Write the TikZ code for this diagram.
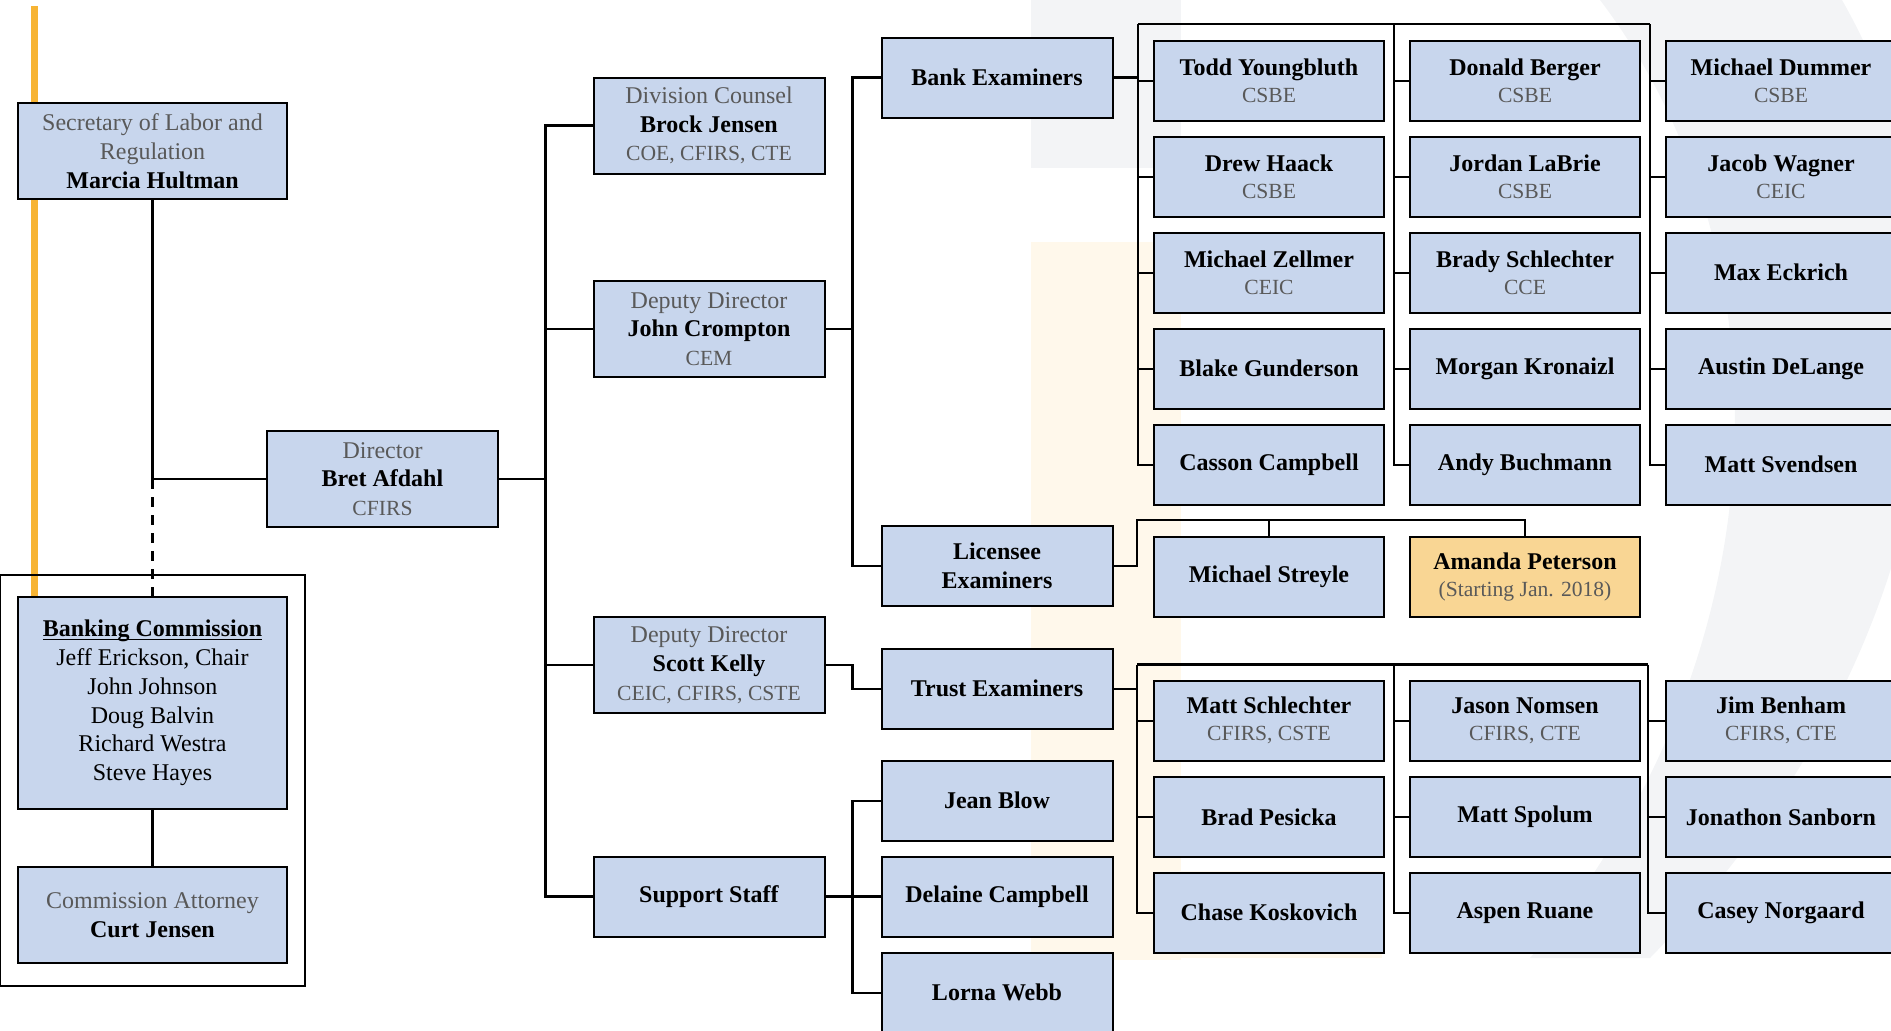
\documentclass[tikz,border=0pt]{standalone}
\usepackage{fontspec}
\setmainfont{Liberation Serif}
\usepackage{xcolor}
\usepackage{tikz}
\usetikzlibrary{positioning}
\usetikzlibrary{calc,fit}
\definecolor{boxblue}{RGB}{200,214,237}
\definecolor{peach}{RGB}{249,214,148}
\definecolor{rulegold}{RGB}{247,180,52}
\definecolor{titlegray}{RGB}{89,89,89}
\definecolor{wmgray}{RGB}{243,244,246}
\definecolor{wmcream}{RGB}{255,248,235}
\tikzset{
	staff/.style={draw, line width=1pt, fill=boxblue, align=center,
		inner sep=0pt, minimum width=115.5pt, minimum height=40pt,
		font=\fontsize{12pt}{14.4pt}\selectfont},
	chief/.style={staff, minimum height=48pt},
	member/.style={staff, minimum width=115pt,
		font=\fontsize{12pt}{13.4pt}\selectfont},
	link/.style={draw, line width=1.1pt},
	advice/.style={link, dash pattern=on 5pt off 4pt}
}
\newcommand{\who}[1]{\textbf{#1}}
\newcommand{\jobtitle}[1]{{\color{titlegray}#1}}
\newcommand{\creds}[1]{{\fontsize{10.8pt}{13pt}\selectfont\color{titlegray}#1}}
\newcommand{\headline}[1]{\setbox0\hbox{#1}\rlap{\rule[-1.6pt]{\wd0}{0.7pt}}\box0}

\begin{document}
\begin{tikzpicture}[x=0.5pt, y=-0.5pt]
		\useasboundingbox (0,0) rectangle (1891,1030);
		\clip (0,0) rectangle (1891,1030);
		%% Watermark
		\fill[wmgray] (1031,0) rectangle (1181,168);
		\fill[wmcream] (1031,242) rectangle (1181,960);
		\fill[wmcream] (1181,871) rectangle (1382,958);
		\fill[wmgray] (1600,0) -- (1842,0) .. controls (1990,260) and (1960,640) .. (1650,958)
			-- (1530,958) .. controls (1790,650) and (1790,250) .. (1600,0) -- cycle;
		\draw[rulegold, line width=3.5pt] (34,6) -- (34,600);
		%% Commission side
		\node [chief, minimum width=134.5pt] (sec) at (152.5,151)
			{\jobtitle{Secretary of Labor and}\\\jobtitle{Regulation}\\\who{Marcia Hultman}};
		\node [staff, minimum width=134.5pt, minimum height=106pt] (comm) at (152.5,703)
			{\headline{\who{Banking Commission}}\\Jeff Erickson, Chair\\John Johnson\\Doug Balvin\\Richard Westra\\Steve Hayes};
		\node [chief, minimum width=134.5pt] (atty) at (152.5,915.3)
			{\jobtitle{Commission Attorney}\\\who{Curt Jensen}};
		\node [draw, line width=1pt, inner xsep=8.5pt, inner ysep=10.75pt, fit=(comm)(atty)] (board) {};
		%% Division
		\node [chief] (dir) at (382.5,479) {\jobtitle{Director}\\\who{Bret Afdahl}\\\creds{CFIRS}};
		\node [chief] (divc) at (709,125.5) {\jobtitle{Division Counsel}\\\who{Brock Jensen}\\\creds{COE, CFIRS, CTE}};
		\node [chief] (cromp) at (709,329) {\jobtitle{Deputy Director}\\\who{John Crompton}\\\creds{CEM}};
		\node [chief] (kelly) at (709,665) {\jobtitle{Deputy Director}\\\who{Scott Kelly}\\\creds{CEIC, CFIRS, CSTE}};
		\node [staff] (supp) at (709,896.5) {\who{Support Staff}};
		\node [staff] (bankex) at (997,77.5) {\who{Bank Examiners}};
		\node [staff] (licex) at (997,566) {\who{Licensee}\\\who{Examiners}};
		\node [staff] (trustex) at (997,688.6) {\who{Trust Examiners}};
		\node [staff] (jean) at (997,800.7) {\who{Jean Blow}};
		\node [staff] (delaine) at (997,896.5) {\who{Delaine Campbell}};
		\node [staff] (lorna) at (997,992.7) {\who{Lorna Webb}};
		%% Bank examiners
		\node [member] (ty) at (1269,80.7) {\who{Todd Youngbluth}\\\creds{CSBE}};
		\node [member] (dh) at (1269,176.7) {\who{Drew Haack}\\\creds{CSBE}};
		\node [member] (mz) at (1269,272.7) {\who{Michael Zellmer}\\\creds{CEIC}};
		\node [member] (bgu) at (1269,368.7) {\who{Blake Gunderson}};
		\node [member] (cc) at (1269,464.7) {\who{Casson Campbell}};
		\node [member] (db) at (1525,80.7) {\who{Donald Berger}\\\creds{CSBE}};
		\node [member] (jl) at (1525,176.7) {\who{Jordan LaBrie}\\\creds{CSBE}};
		\node [member] (bs) at (1525,272.7) {\who{Brady Schlechter}\\\creds{CCE}};
		\node [member] (mk) at (1525,368.7) {\who{Morgan Kronaizl}};
		\node [member] (ab) at (1525,464.7) {\who{Andy Buchmann}};
		\node [member] (md) at (1781,80.7) {\who{Michael Dummer}\\\creds{CSBE}};
		\node [member] (jw) at (1781,176.7) {\who{Jacob Wagner}\\\creds{CEIC}};
		\node [member] (me) at (1781,272.7) {\who{Max Eckrich}};
		\node [member] (ad) at (1781,368.7) {\who{Austin DeLange}};
		\node [member] (msv) at (1781,464.7) {\who{Matt Svendsen}};
		%% Licensee examiners
		\node [member] (streyle) at (1269,576.7) {\who{Michael Streyle}};
		\node [member, fill=peach] (amanda) at (1525,576.7) {\who{Amanda Peterson}\\\creds{(Starting Jan. 2018)}};
		%% Trust examiners
		\node [member] (msc) at (1269,720.7) {\who{Matt Schlechter}\\\creds{CFIRS, CSTE}};
		\node [member] (bp) at (1269,816.9) {\who{Brad Pesicka}};
		\node [member] (ck) at (1269,912.7) {\who{Chase Koskovich}};
		\node [member] (jn) at (1525,720.7) {\who{Jason Nomsen}\\\creds{CFIRS, CTE}};
		\node [member] (mspo) at (1525,816.9) {\who{Matt Spolum}};
		\node [member] (ar) at (1525,912.7) {\who{Aspen Ruane}};
		\node [member] (jb) at (1781,720.7) {\who{Jim Benham}\\\creds{CFIRS, CTE}};
		\node [member] (js) at (1781,816.9) {\who{Jonathon Sanborn}};
		\node [member] (cn) at (1781,912.7) {\who{Casey Norgaard}};
		%% Reporting lines
		\coordinate (trunk) at (545.5,0);
		\coordinate (sub) at (852.5,0);
		\coordinate (fork) at (sec.south |- dir.west);
		\path [link] (sec.south) |- (dir.west);
		\path [advice] (fork) -- (comm.north);
		\path [link] (comm.south) -- (atty.north);
		\path [link] (divc.west) -- (divc.west -| trunk) |- (supp.west);
		\path [link] (dir.east) -- (dir.east -| trunk);
		\path [link] (cromp.west) -- (cromp.west -| trunk);
		\path [link] (kelly.west) -- (kelly.west -| trunk);
		\path [link] (bankex.west) -- (bankex.west -| sub) |- (licex.west);
		\path [link] (cromp.east) -- (cromp.east -| sub);
		\path [link] (kelly.east) -- (kelly.east -| sub) |- (trustex.west);
		\path [link] (jean.west) -- (jean.west -| sub) |- (lorna.west);
		\path [link] (supp.east) -- (supp.east -| sub);
		\path [link] (sub |- delaine.west) -- (delaine.west);
		%% Bank examiner brackets
		\coordinate (b1) at (1138,24.3);
		\coordinate (b2) at (1394,24.3);
		\coordinate (b3) at (1650,24.3);
		\path [link] (bankex.east) -- (bankex.east -| b1);
		\path [link] (b1) -- (b3);
		\path [link] (b1) |- (cc.west);
		\path [link] (b2) |- (ab.west);
		\path [link] (b3) |- (msv.west);
		\foreach \n in {ty,dh,mz,bgu} \path [link] (b1 |- \n.west) -- (\n.west);
		\foreach \n in {db,jl,bs,mk} \path [link] (b2 |- \n.west) -- (\n.west);
		\foreach \n in {md,jw,me,ad} \path [link] (b3 |- \n.west) -- (\n.west);
		%% Licensee bracket
		\coordinate (lb) at (1137,520);
		\path [link] (licex.east) -- (licex.east -| lb) -- (lb) -| (amanda.north);
		\path [link] (lb -| streyle.north) -- (streyle.north);
		%% Trust brackets
		\coordinate (t1) at (1137,664.5);
		\coordinate (t2) at (1394,664.5);
		\coordinate (t3) at (1648,664.5);
		\path [link] (trustex.east) -- (trustex.east -| t1);
		\path [link] (t1) -- (t3);
		\path [link] (t1) |- (ck.west);
		\path [link] (t2) |- (ar.west);
		\path [link] (t3) |- (cn.west);
		\foreach \n in {msc,bp} \path [link] (t1 |- \n.west) -- (\n.west);
		\foreach \n in {jn,mspo} \path [link] (t2 |- \n.west) -- (\n.west);
		\foreach \n in {jb,js} \path [link] (t3 |- \n.west) -- (\n.west);
	\end{tikzpicture}
\end{document}
